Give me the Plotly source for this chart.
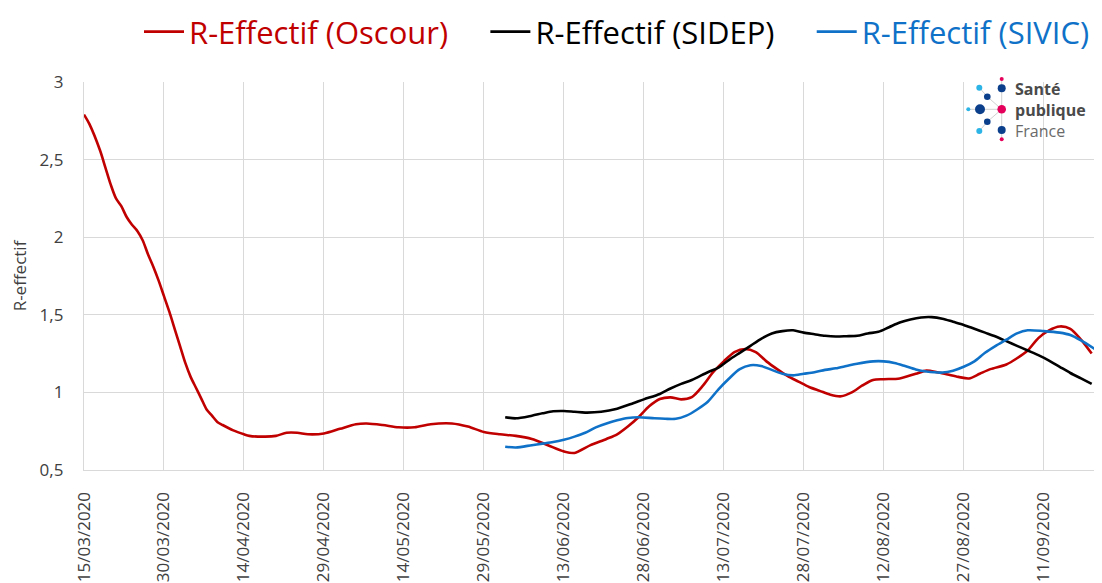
import plotly.graph_objects as go

# R-effectif Oscour (red)
oscour_dates = ["2020-03-15","2020-03-16","2020-03-18","2020-03-19","2020-03-20","2020-03-21","2020-03-22","2020-03-23",
                "2020-03-24","2020-03-25","2020-03-26","2020-03-27","2020-03-28","2020-03-29","2020-03-30","2020-03-31",
                "2020-04-01","2020-04-02","2020-04-03","2020-04-04","2020-04-05","2020-04-06","2020-04-07","2020-04-08",
                "2020-04-09","2020-04-10","2020-04-12","2020-04-14","2020-04-15","2020-04-18","2020-04-20","2020-04-22",
                "2020-04-24","2020-04-26","2020-04-29","2020-05-02","2020-05-05","2020-05-07","2020-05-10","2020-05-13",
                "2020-05-16","2020-05-19","2020-05-23","2020-05-26","2020-05-29","2020-06-01","2020-06-04","2020-06-07",
                "2020-06-10","2020-06-13","2020-06-15","2020-06-18","2020-06-21","2020-06-23","2020-06-25","2020-06-27",
                "2020-06-29","2020-07-01","2020-07-03","2020-07-05","2020-07-07","2020-07-09","2020-07-11","2020-07-13",
                "2020-07-15","2020-07-17","2020-07-19","2020-07-21","2020-07-23","2020-07-25","2020-07-27","2020-07-29",
                "2020-07-31","2020-08-02","2020-08-04","2020-08-06","2020-08-08","2020-08-10","2020-08-12","2020-08-15",
                "2020-08-18","2020-08-20","2020-08-22","2020-08-24","2020-08-26","2020-08-28","2020-08-30","2020-09-01",
                "2020-09-04","2020-09-06","2020-09-08","2020-09-10","2020-09-12","2020-09-14","2020-09-16","2020-09-18",
                "2020-09-20"]
oscour_values = [2.79, 2.73, 2.56, 2.45, 2.34, 2.25, 2.20, 2.13,
                 2.08, 2.04, 1.98, 1.89, 1.81, 1.72, 1.62, 1.52,
                 1.41, 1.30, 1.19, 1.10, 1.03, 0.96, 0.89, 0.85,
                 0.81, 0.79, 0.755, 0.73, 0.72, 0.715, 0.72, 0.74,
                 0.74, 0.73, 0.735, 0.765, 0.795, 0.80, 0.79, 0.775,
                 0.775, 0.795, 0.80, 0.78, 0.745, 0.73, 0.72, 0.70,
                 0.66, 0.62, 0.61, 0.66, 0.70, 0.73, 0.78, 0.84,
                 0.91, 0.957, 0.968, 0.955, 0.97, 1.04, 1.13, 1.20,
                 1.26, 1.28, 1.26, 1.20, 1.15, 1.105, 1.07, 1.035,
                 1.01, 0.985, 0.975, 1.00, 1.045, 1.08, 1.085, 1.09,
                 1.12, 1.14, 1.13, 1.115, 1.10, 1.09, 1.12, 1.15,
                 1.18, 1.22, 1.27, 1.35, 1.40, 1.425, 1.41, 1.34,
                 1.25]

# R-effectif SIDEP (black)
sidep_dates = ["2020-06-02","2020-06-04","2020-06-07","2020-06-09","2020-06-11","2020-06-13","2020-06-15","2020-06-17",
               "2020-06-20","2020-06-23","2020-06-26","2020-06-28","2020-07-01","2020-07-03","2020-07-05","2020-07-07",
               "2020-07-10","2020-07-12","2020-07-14","2020-07-16","2020-07-18","2020-07-20","2020-07-22","2020-07-24",
               "2020-07-26","2020-07-28","2020-07-30","2020-08-01","2020-08-03","2020-08-05","2020-08-07","2020-08-09",
               "2020-08-11","2020-08-13","2020-08-15","2020-08-17","2020-08-19","2020-08-21","2020-08-23","2020-08-25",
               "2020-08-27","2020-08-29","2020-08-31","2020-09-02","2020-09-04","2020-09-06","2020-09-08","2020-09-10",
               "2020-09-12","2020-09-14","2020-09-16","2020-09-18","2020-09-20"]
sidep_values = [0.84, 0.833, 0.85, 0.865, 0.878, 0.88, 0.875, 0.87,
                0.875, 0.895, 0.93, 0.955, 0.99, 1.025, 1.055, 1.08,
                1.13, 1.16, 1.21, 1.255, 1.30, 1.345, 1.38, 1.395,
                1.40, 1.385, 1.375, 1.365, 1.36, 1.362, 1.365, 1.38,
                1.39, 1.42, 1.45, 1.47, 1.483, 1.485, 1.475, 1.455,
                1.435, 1.41, 1.385, 1.36, 1.33, 1.30, 1.27, 1.24,
                1.205, 1.165, 1.125, 1.09, 1.055]

# R-effectif SIVIC (blue)
sivic_dates = ["2020-06-02","2020-06-04","2020-06-07","2020-06-09","2020-06-11","2020-06-13","2020-06-15","2020-06-17",
               "2020-06-19","2020-06-21","2020-06-23","2020-06-25","2020-06-27","2020-06-30","2020-07-02","2020-07-04",
               "2020-07-06","2020-07-08","2020-07-10","2020-07-12","2020-07-14","2020-07-16","2020-07-18","2020-07-20",
               "2020-07-22","2020-07-24","2020-07-26","2020-07-28","2020-07-30","2020-08-01","2020-08-03","2020-08-05",
               "2020-08-07","2020-08-10","2020-08-12","2020-08-14","2020-08-16","2020-08-18","2020-08-20","2020-08-23",
               "2020-08-25","2020-08-27","2020-08-29","2020-08-31","2020-09-02","2020-09-04","2020-09-06","2020-09-08",
               "2020-09-11","2020-09-14","2020-09-16","2020-09-18","2020-09-21"]
sivic_values = [0.65, 0.645, 0.66, 0.67, 0.68, 0.695, 0.715, 0.74,
                0.775, 0.80, 0.82, 0.835, 0.84, 0.833, 0.83, 0.83,
                0.85, 0.89, 0.94, 1.02, 1.09, 1.15, 1.175, 1.17,
                1.145, 1.12, 1.11, 1.12, 1.13, 1.145, 1.155, 1.17,
                1.185, 1.20, 1.20, 1.19, 1.17, 1.148, 1.135, 1.128,
                1.14, 1.165, 1.20, 1.255, 1.30, 1.34, 1.38, 1.40,
                1.395, 1.385, 1.37, 1.335, 1.27]

tick_dates = ["2020-03-15","2020-03-30","2020-04-14","2020-04-29","2020-05-14","2020-05-29","2020-06-13",
              "2020-06-28","2020-07-13","2020-07-28","2020-08-12","2020-08-27","2020-09-11"]
tick_labels = ["15/03/2020","30/03/2020","14/04/2020","29/04/2020","14/05/2020","29/05/2020","13/06/2020",
               "28/06/2020","13/07/2020","28/07/2020","12/08/2020","27/08/2020","11/09/2020"]

RED = "#c00000"
BLACK = "#000000"
BLUE = "#0f72c8"
FONT = "Open Sans"
# the page body has an 8px margin, so the figure is drawn 8px in from the window corner
OFF = 8
W, H = 1102 - OFF, 583 - OFF
ML, MR, MT, MB = 84 - OFF, 5, 82 - OFF, 113

NB = "\u00a0"
fig = go.Figure()
fig.add_trace(go.Scatter(x=oscour_dates, y=oscour_values, mode="lines",
                         line=dict(color=RED, width=2.6, shape="spline", smoothing=0.8),
                         name='<span style="color:%s">R-Effectif (Oscour)</span>' % RED + NB * 4))
fig.add_trace(go.Scatter(x=sidep_dates, y=sidep_values, mode="lines",
                         line=dict(color=BLACK, width=2.6, shape="spline", smoothing=0.8),
                         name='<span style="color:%s">R-Effectif (SIDEP)</span>' % BLACK + NB * 4))
fig.add_trace(go.Scatter(x=sivic_dates, y=sivic_values, mode="lines",
                         line=dict(color=BLUE, width=2.6, shape="spline", smoothing=0.8),
                         name='<span style="color:%s">R-Effectif (SIVIC)</span>' % BLUE))


# window pixel -> paper coordinates (used for the logo and the legend)
def px(x):
    return (x - OFF - ML) / (W - ML - MR)


def py(y):
    return (H - MB - (y - OFF)) / (H - MT - MB)


# logo "Santé publique France"
shapes = []
links = [(980, 109.3, 1001.7, 109.3), (1001.7, 79, 1001.7, 139.3),
         (987.3, 96.7, 1001.7, 109.3), (987.3, 121.7, 1001.7, 109.3),
         (979.3, 87.7, 987.3, 96.7), (979.3, 131, 987.3, 121.7), (968.3, 109.3, 980, 109.3)]
for x0, y0, x1, y1 in links:
    shapes.append(dict(type="line", xref="paper", yref="paper", x0=px(x0), y0=py(y0), x1=px(x1), y1=py(y1),
                       line=dict(color="#d0d0d0", width=1), layer="above"))
dots = [(1001.7, 79, 2, "#e4005b"), (979.3, 87.7, 3, "#2cb4e6"), (1001.7, 88.3, 4, "#0b3f8c"),
        (987.3, 96.7, 3.3, "#0b3f8c"), (968.3, 109.3, 2, "#2cb4e6"), (980, 109.3, 5, "#0b3f8c"),
        (1001.7, 109.3, 4.3, "#e4005b"), (987.3, 121.7, 3.3, "#0b3f8c"), (979.3, 131, 3, "#2cb4e6"),
        (1001.7, 130, 4, "#0b3f8c"), (1001.7, 139.3, 2, "#e4005b")]
for cx, cy, r, c in dots:
    shapes.append(dict(type="circle", xref="paper", yref="paper", xsizemode="pixel", ysizemode="pixel",
                       xanchor=px(cx), yanchor=py(cy), x0=-r, x1=r, y0=-r, y1=r,
                       fillcolor=c, line=dict(width=0), layer="above"))

annotations = [
    dict(text='<b>Santé</b><br><b>publique</b><br><span style="color:#6a6a6a">France</span>',
         x=px(1013), y=py(110), xref="paper", yref="paper", xanchor="left", yanchor="middle", align="left",
         showarrow=False, font=dict(family=FONT, size=16, color="#4a4a4a")),
]

fig.update_layout(
    width=W, height=H,
    margin=dict(l=ML, r=MR, t=MT, b=MB, autoexpand=False),
    paper_bgcolor="white", plot_bgcolor="white",
    separators=", ",
    font=dict(family=FONT, size=17, color="#404040"),
    showlegend=True,
    legend=dict(orientation="h", x=px(139), xanchor="left", y=py(5), yanchor="top",
                font=dict(family=FONT, size=31), bgcolor="rgba(0,0,0,0)", itemwidth=40),
    shapes=shapes,
    annotations=annotations,
)
fig.update_xaxes(range=["2020-03-15", "2020-09-21"], tickvals=tick_dates, ticktext=tick_labels,
                 tickangle=-90, showgrid=True, gridcolor="#d9d9d9", gridwidth=1.3, automargin=False,
                 showline=True, linecolor="#d9d9d9", linewidth=1.3, ticks="", ticklabelstandoff=14,
                 tickfont=dict(family=FONT, size=17, color="#404040"), zeroline=False)
fig.update_yaxes(range=[0.5, 3], dtick=0.5, tick0=0.5, showgrid=True, gridcolor="#d9d9d9", gridwidth=1.3,
                 showline=True, linecolor="#d9d9d9", linewidth=1.3, ticks="", ticklabelstandoff=16,
                 zeroline=False, tickfont=dict(family=FONT, size=17, color="#404040"), automargin=False,
                 title=dict(text="R-effectif", font=dict(family=FONT, size=17, color="#404040"), standoff=8))

fig.write_html("out.html")
